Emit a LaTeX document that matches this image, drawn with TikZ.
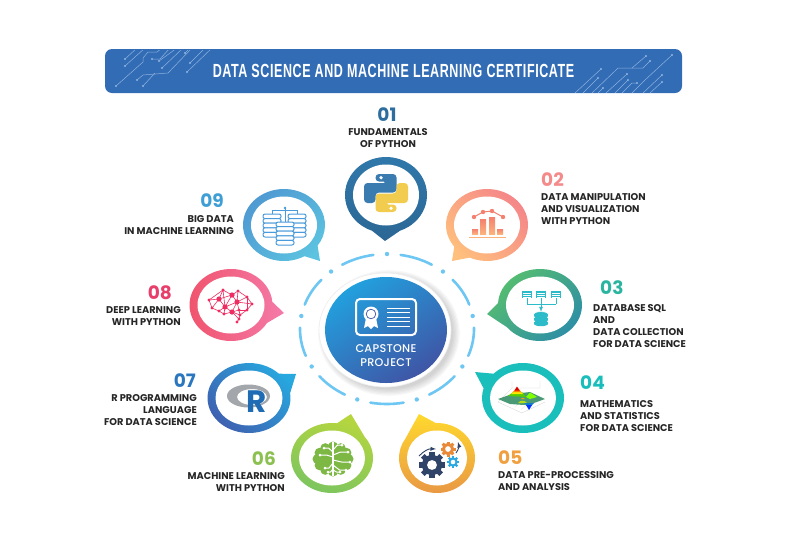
\documentclass[tikz,border=0pt]{standalone}
\usepackage{fontspec}
\setmainfont{Poppins}
\newfontfamily\titlefont[FakeStretch=0.66,LetterSpace=3]{Liberation Sans}
\newfontfamily\hubfont[LetterSpace=2.5]{Poppins Medium}
\usetikzlibrary{shapes.geometric}

\definecolor{bannerblue}{HTML}{326CB5}
\definecolor{traceblue}{HTML}{8FB2E0}
\definecolor{ringblue}{HTML}{6EC6F3}
\definecolor{hubtop}{HTML}{22A0DE}
\definecolor{hubbot}{HTML}{3F55A5}
\definecolor{pyblue}{HTML}{3B7CB0}
\definecolor{pyyellow}{HTML}{F2CC4E}
\definecolor{numone}{HTML}{2E6E9E}
\definecolor{numtwo}{HTML}{F58A8A}
\definecolor{numthree}{HTML}{2BB5A0}
\definecolor{numfour}{HTML}{19BDBB}
\definecolor{numfive}{HTML}{F0A040}
\definecolor{numsix}{HTML}{8CC152}
\definecolor{numseven}{HTML}{2B77BF}
\definecolor{numeight}{HTML}{E83E6A}
\definecolor{numnine}{HTML}{3F9FD5}
\definecolor{chartred}{HTML}{F4806F}
\definecolor{chartpeach}{HTML}{FBB27C}
\definecolor{tablecyan}{HTML}{2CBBC8}
\definecolor{dbblue}{HTML}{4A9BDB}
\definecolor{brainpink}{HTML}{EE2E62}
\definecolor{braingreen}{HTML}{7DB845}
\definecolor{gearnavy}{HTML}{2F4468}
\definecolor{gearorange}{HTML}{E98A3A}
\definecolor{gearcyan}{HTML}{2CA9E0}
\definecolor{rgrey}{HTML}{A3A7AB}
\definecolor{rblue}{HTML}{1F6CB5}
\definecolor{plotbody}{HTML}{4A9A78}
\definecolor{aaone}{HTML}{3079AB}\definecolor{abone}{HTML}{2B6795}
\definecolor{aatwo}{HTML}{F48389}\definecolor{abtwo}{HTML}{FFC07D}
\definecolor{aathree}{HTML}{57BF6E}\definecolor{abthree}{HTML}{2E8FA5}
\definecolor{aafour}{HTML}{1ABFBC}\definecolor{abfour}{HTML}{1ABFBC}
\definecolor{aafive}{HTML}{FFD92E}\definecolor{abfive}{HTML}{E99844}
\definecolor{aasix}{HTML}{B7D63E}\definecolor{absix}{HTML}{79C460}
\definecolor{aaseven}{HTML}{27A8DF}\definecolor{abseven}{HTML}{3F5FAF}
\definecolor{aaeight}{HTML}{F47AA8}\definecolor{abeight}{HTML}{F0526A}
\definecolor{aanine}{HTML}{4E97D1}\definecolor{abnine}{HTML}{5CC3E0}

\tikzset{
	bannerbox/.style={fill=bannerblue,rounded corners=7},
	trace/.style={traceblue,line width=0.5},
	ringdash/.style={ringblue,line width=2.6,line cap=round},
	hubdisc/.style={ellipse,inner sep=0,minimum width=122,minimum height=106,shade,top color=hubtop,bottom color=hubbot,shading angle=35},
	hollow/.style={ellipse,inner sep=0,fill=white},
	numtag/.style={inner sep=0,font=\fontsize{18.5}{18.5}\selectfont\bfseries},
	tagtext/.style={inner sep=0,font=\fontsize{9.8}{12}\selectfont\bfseries,text=black!85},
	lefttext/.style={tagtext,anchor=west,align=left},
	righttext/.style={tagtext,anchor=east,align=right},
	midtext/.style={tagtext,align=center},
}
\newcommand{\gearicon}[4]{
	\foreach \a in {0,45,...,315} {
			\fill[#4,shift={(#1,#2)},rotate=\a] ({-0.2*#3},{-#3}) rectangle ({0.2*#3},0);
		}
	\fill[#4] (#1,#2) circle[radius={0.78*#3}];
	\fill[white] (#1,#2) circle[radius={0.38*#3}];
}

\begin{document}
\begin{tikzpicture}[x=1pt,y=-1pt]
	\useasboundingbox (0,0) rectangle (791,536);

	% title banner
	\fill[bannerbox] (105,49) rectangle (682,93);
	\begin{scope}
		\clip (105,50) rectangle (682,92);
		\draw[trace] (116,86) -- (143,62) -- (143,58) -- (148,52) -- (157,52) -- (162,48);
		\draw[trace] (125,59) -- (137,48);
		\draw[trace] (125,66) -- (145,48);
		\draw[trace] (137,80) -- (143,75) -- (168,73) -- (192,48);
		\draw[trace] (143,86) -- (155,73);
		\draw[trace] (152,59) -- (160,59) -- (170,48);
		\draw[trace] (159,61) -- (177,48);
		\draw[trace] (162,68) -- (183,48);
		\draw[trace] (185,53) -- (190,48);
		\draw[trace] (190,63) -- (205,48);
		\draw[trace] (187,72) -- (212,48);
		\draw[trace] (672,55) -- (645,80) -- (632,93);
		\draw[trace] (646,56) -- (632,68) -- (618,68) -- (592,93);
		\draw[trace] (650,61) -- (643,68) -- (632,68);
		\draw[trace] (601,69) -- (575,93);
		\draw[trace] (598,78) -- (583,93);
		\draw[trace] (627,74) -- (606,93);
		\draw[trace] (628,80) -- (615,93);
		\draw[trace] (603,88) -- (598,93);
		\draw[trace] (637,83) -- (632,83) -- (622,93);
		\draw[trace] (662,75) -- (643,93);
		\draw[trace] (662,82) -- (650,93);
		\foreach \x/\y in {116/86,125/59,125/66,137/80,143/86,152/59,159/61,162/68,185/53,190/63,187/72,672/55,646/56,650/61,601/69,598/78,627/74,628/80,603/88,637/83,662/75,662/82} {
				\fill[traceblue] (\x,\y) circle[radius=1.1];
			}
	\end{scope}
	\node[text=white,inner sep=0] (banner) at (393.5,71) {\titlefont\fontsize{19}{19}\selectfont\bfseries DATA SCIENCE AND MACHINE LEARNING CERTIFICATE};

	% dashed ring
	\foreach \i [evaluate=\i as \s using -81+40*\i, evaluate=\i as \e using -59+40*\i, evaluate=\i as \d using -90+40*\i] in {0,...,8} {
			\draw[ringdash] (387,329) ++(\s:87 and 75) arc[start angle=\s,end angle=\e,x radius=87,y radius=75];
			\fill[ringblue] (387,329) ++(\d:87 and 75) circle[radius=2.2];
		}

	% hub
	\foreach \k in {1,...,6} {
			\fill[black,opacity=0.03] (389,333) ellipse[x radius={63+\k*1.3},y radius={55+\k*1.3}];
		}
	\fill[white] (385,330) ellipse[x radius=66,y radius=57];
	\draw[black!7,line width=0.6] (385,330) ellipse[x radius=66,y radius=57];
	\node[hubdisc] (hub) at (386,330) {};
	\draw[white,line width=2,rounded corners=4] (356,299) rectangle (416,335);
	\fill[white] (366,318) -- (364,328) -- (368,326) -- (371,329) -- (374,326) -- (378,328) -- (376,318) -- cycle;
	\fill[white] (371,314) circle[radius=7.5];
	\draw[hubbot,line width=0.7] (371,314) circle[radius=4.8];
	\foreach \y in {308,312.5,317,321.5,326} {
			\draw[white,line width=1] (387,\y) -- (410,\y);
		}
	\node[text=white,inner sep=0,align=center,font=\hubfont\fontsize{11.2}{13.5}\selectfont] (hubtext) at (386,355.5) {CAPSTONE\\PROJECT};

	% bubbles
	\foreach \name/\cx/\cy/\rx/\ry/\tx/\ty/\sa/\ea/\ca/\cb/\ang in {
			one/386/195/41/38/385/241/110/430/aaone/abone/0,
			two/487/225/41/36/452/261/143/475/aatwo/abtwo/-45,
			three/540/305/42/36/487/314/183/502/aathree/abthree/45,
			four/523/398/41/35/475/372/224/556/aafour/abfour/0,
			five/437/458/38/35/419/414/268/574/aafive/abfive/0,
			six/332/458/41/35/351/414/323/637/aasix/absix/-20,
			seven/249/398/41.5/35/296/374/352/676/aaseven/abseven/-45,
			eight/231/305/41.5/36/284/313/30/355/aaeight/abeight/-90,
			nine/284/225/41/36/320/261/60/395/aanine/abnine/45} {
			\shade[top color=\ca,bottom color=\cb,shading angle=\ang] (\cx,\cy) ++(\sa:\rx\space and \ry) arc[start angle=\sa,end angle=\ea,x radius=\rx,y radius=\ry] -- (\tx,\ty) -- cycle;
			\node[hollow,minimum width={2*\rx-16},minimum height={2*\ry-15}] (\name) at (\cx,\cy) {};
		}

	% icon 01
	\foreach \ang/\col in {0/pyblue,180/pyyellow} {
			\fill[\col,rounded corners=3.5,shift={(386,193)},rotate=\ang] (-10.5,-19) -- (10.5,-19) -- (10.5,-0.5) -- (-10.5,-0.5) -- (-10.5,10) -- (-22,10) -- (-22,-10) -- (1,-10) -- (1,-11.5) -- (-10.5,-11.5) -- cycle;
			\fill[white,shift={(386,193)},rotate=\ang] (-5,-15.3) circle[radius=1.8];
		}

	% icon 02
	\foreach \x/\y in {472/229,480/219,489/217,497/229} {
			\shade[top color=chartred,bottom color=chartpeach] (\x,\y) rectangle ({\x+6},234);
		}
	\draw[chartpeach,line width=0.9] (469,237) -- (506,237);
	\draw[chartred,line width=1] (474,217) -- (483,212) -- (492,211) -- (503,217);
	\foreach \x/\y in {474/217,483/212,492/211,503/217} {
			\fill[chartred] (\x,\y) circle[radius=2.2];
		}

	% icon 03
	\foreach \x in {527,541,556} {
			\fill[tablecyan] ({\x-5},291) rectangle ({\x+5},298);
			\foreach \y in {293,295,296.8} {
					\draw[white,line width=0.4] ({\x-4},\y) -- ({\x+4},\y);
				}
			\draw[tablecyan,line width=0.8] (\x,298) -- (\x,304);
		}
	\draw[tablecyan,line width=0.8] (527,304) -- (556,304);
	\draw[tablecyan,line width=0.8,-latex] (541,304) -- (541,312);
	\foreach \y in {322,318,314} {
			\fill[tablecyan] (541,\y) ellipse[x radius=7,y radius=2.4];
			\fill[tablecyan] (534,\y) rectangle (548,{\y+1.8});
			\fill[tablecyan] (541,{\y+1.8}) ellipse[x radius=7,y radius=2.4];
			\draw[white,line width=0.6] (534,\y) arc[start angle=180,end angle=0,x radius=7,y radius=-2.4];
		}

	% icon 04
	\draw[black!18,line width=0.3] (498,402) -- (512,388) -- (512,381) (512,388) -- (540,388) -- (540,381) (498,402) -- (522,413) -- (545,402);
	\foreach \x in {503,509,515,521} {
			\draw[black!14,line width=0.2] (\x,{398+(\x-498)*0.5}) -- ({\x+15},{389+(\x-498)*0.35});
		}
	\fill[plotbody] (498,399) -- (512,394) -- (530,392) -- (545,399) -- (534,403) -- (524,405) -- (510,404) -- cycle;
	\fill[green!60!yellow!80!black] (508,396) -- (513,392) -- (522,392) -- (526,397) -- cycle;
	\fill[yellow!90!orange] (511,394) -- (514.5,390.5) -- (519.5,390.5) -- (523,394) -- cycle;
	\fill[orange] (513,392) -- (516,388.5) -- (518.5,388.5) -- (521,392) -- cycle;
	\fill[red!85!black] (514.5,390.5) -- (517,386.5) -- (519.5,390.5) -- cycle;
	\fill[green!50!yellow] (526,397) -- (530,392.5) -- (537,397) -- (530,399) -- cycle;
	\fill[yellow!70!green] (518,403) to[bend left=60] (527,403) -- cycle;
	\fill[orange!70!yellow] (520.5,399) to[bend left=60] (525,399) -- cycle;
	\fill[cyan!60!blue] (524,403) -- (534,403) -- (529,408) -- cycle;
	\fill[blue!80!cyan] (526,405) -- (532,405) -- (529,410) -- cycle;

	% icon 05
	\gearicon{432}{465}{13}{gearnavy}
	\gearicon{448}{449}{7.5}{gearorange}
	\gearicon{453}{462}{6}{gearcyan}
	\draw[gearnavy,line width=0.9,-latex] (419,456) to[bend left=25] (436,449);
	\draw[gearnavy,line width=0.9,-latex] (456,453) to[bend right=25] (458,442);

	% icon 06
	\foreach \a in {0,30,...,330} {
			\fill[braingreen] (333,459) ++(\a:15.5 and 12.5) circle[radius=5];
		}
	\fill[braingreen] (333,459) ellipse[x radius=17,y radius=14];
	\draw[white,line width=1.5] (333,442) -- (333,476);
	\foreach \x/\y/\ex/\ey in {333/450/342/445,333/455/348/452,333/460/350/462,333/465/346/470,333/470/340/472,333/452/324/448,333/457/320/455,333/463/325/468,333/469/328/472} {
			\draw[white,line width=1] (\x,\y) -- ({(\x+\ex)/2},\ey) -- (\ex,\ey);
			\fill[white] (\ex,\ey) circle[radius=1.5];
		}

	% icon 07
	\fill[rgrey,even odd rule] (248.5,396) ellipse[x radius=21.5,y radius=11.5] (252,397) ellipse[x radius=15,y radius=8];
	\node[inner sep=0,text=rblue,font=\fontsize{31}{31}\selectfont\bfseries] (rletter) at (257,402) {R};

	% icon 08
	\foreach \i/\x/\y in {1/209/300,2/219/299,3/223/290,4/232/295,5/238/291,6/247/297,7/237/302,8/252/304,9/225/307,10/212/308,11/219/311,12/232/312,13/239/310,14/247/310,15/224/314,16/240/315,17/237/322,18/239/319} {
			\coordinate (p\i) at (\x,\y);
		}
	\foreach \a/\b in {1/2,1/3,2/3,3/4,4/5,5/6,4/7,5/7,6/7,6/8,7/8,2/9,3/9,4/9,9/7,1/10,2/10,10/11,9/11,9/12,7/12,7/13,12/13,13/14,8/14,6/14,11/15,15/12,12/16,13/16,14/16,16/18,18/17,12/18,2/4,9/15} {
			\draw[brainpink,line width=0.6] (p\a) -- (p\b);
		}
	\foreach \i in {1,...,18} {
			\fill[brainpink] (p\i) circle[radius=1.7];
		}
	\foreach \i in {2,4,7,9,12} {
			\fill[brainpink] (p\i) circle[radius=2.6];
		}

	% icon 09
	\draw[dbblue,line width=0.8] (272,214) -- (272,210) -- (297,210) -- (297,214) (285,207) -- (285,222);
	\fill[dbblue] (285,208) circle[radius=1.3];
	\foreach \cx/\cy in {272/214,297/214,285/222} {
			\foreach \k in {0,...,4} {
					\draw[dbblue,fill=white,line width=1,rounded corners=2] ({\cx-9},{\cy+4.6*\k}) rectangle ({\cx+9},{\cy+4.6*\k+4.6});
				}
		}

	% labels
	\node[numtag,text=numone] (num1) at (387,115) {01};
	\node[midtext] (txt1) at (388,138) {FUNDAMENTALS\\OF PYTHON};
	\node[numtag,text=numtwo,anchor=west] (num2) at (541,180) {02};
	\node[lefttext] (txt2) at (541,209) {DATA MANIPULATION\\AND VISUALIZATION\\WITH PYTHON};
	\node[numtag,text=numthree,anchor=west] (num3) at (600,288) {03};
	\node[lefttext] (txt3) at (593,326) {DATABASE SQL\\AND\\DATA COLLECTION\\FOR DATA SCIENCE};
	\node[numtag,text=numfour,anchor=west] (num4) at (580,383) {04};
	\node[lefttext] (txt4) at (580,416) {MATHEMATICS\\AND STATISTICS\\FOR DATA SCIENCE};
	\node[numtag,text=numfive,anchor=west] (num5) at (498,458) {05};
	\node[lefttext] (txt5) at (498,481) {DATA PRE-PROCESSING\\AND ANALYSIS};
	\node[numtag,text=numsix,anchor=east] (num6) at (276,459) {06};
	\node[righttext] (txt6) at (285,482) {MACHINE LEARNING\\WITH PYTHON};
	\node[numtag,text=numseven,anchor=east] (num7) at (196,381) {07};
	\node[righttext] (txt7) at (197,410) {R PROGRAMMING\\LANGUAGE\\FOR DATA SCIENCE};
	\node[numtag,text=numeight,anchor=east] (num8) at (172,293) {08};
	\node[righttext] (txt8) at (181,316) {DEEP LEARNING\\WITH PYTHON};
	\node[numtag,text=numnine,anchor=east] (num9) at (224,201) {09};
	\node[righttext] (txt9) at (234,225) {BIG DATA\\IN MACHINE LEARNING};
\end{tikzpicture}
\end{document}
